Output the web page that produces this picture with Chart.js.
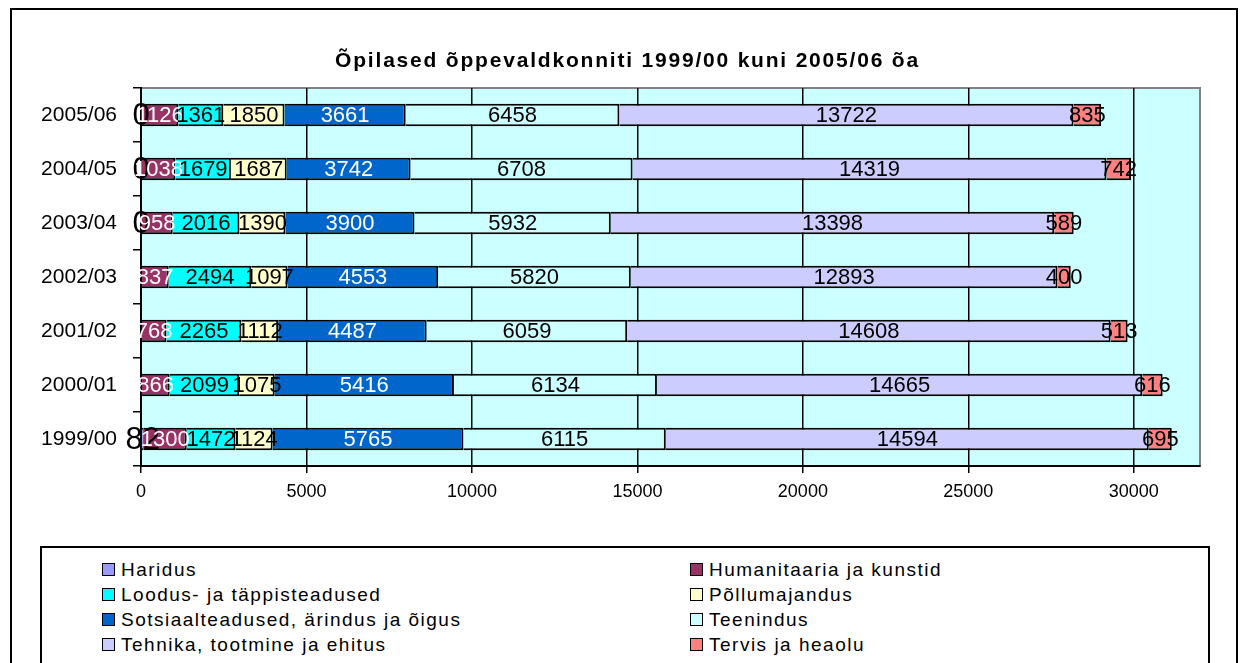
<!DOCTYPE html>
<html><head><meta charset="utf-8">
<script src="https://cdn.jsdelivr.net/npm/chart.js@4.4.1/dist/chart.umd.min.js"></script>
<style>
html,body{margin:0;padding:0;background:#fff;}
#wrap{position:relative;width:1247px;height:663px;overflow:hidden;font-family:"Liberation Sans",Arial,sans-serif;}
#frame{position:absolute;left:10px;top:8px;width:1228px;height:700px;border:2px solid #000;box-sizing:border-box;}
#c{position:absolute;left:0;top:0;}
#title{position:absolute;left:4px;top:48px;width:1247px;text-align:center;font-weight:bold;font-size:21px;letter-spacing:1.8px;line-height:24px;color:#000;}
#legend{position:absolute;left:40px;top:546px;width:1170px;height:200px;border:2px solid #000;box-sizing:border-box;background:#fff;}
.item{position:absolute;display:flex;align-items:center;font-size:19px;color:#000;white-space:nowrap;line-height:1;letter-spacing:1.5px;}
.sw{width:11px;height:11px;border:1.5px solid #000;margin-right:6px;flex:none;}
</style></head>
<body>
<div id="wrap">
  <div id="frame"></div>
  <canvas id="c" width="1247" height="663"></canvas>
  <div id="title">Õpilased õppevaldkonniti 1999/00 kuni 2005/06 õa</div>
  <div id="legend"></div>
</div>
<script>
// ---- data ----
const categories = ['2005/06','2004/05','2003/04','2002/03','2001/02','2000/01','1999/00'];
const seriesNames = ['Haridus','Humanitaaria ja kunstid','Loodus- ja täppisteadused','Põllumajandus',
  'Sotsiaalteadused, ärindus ja õigus','Teenindus','Tehnika, tootmine ja ehitus','Tervis ja heaolu'];
const haridus      = [0, 0, 0, null, null, null, 82];
const humanitaaria = [1126, 1038, 958, 837, 768, 866, 1300];
const loodus       = [1361, 1679, 2016, 2494, 2265, 2099, 1472];
const pollumajandus= [1850, 1687, 1390, 1097, 1112, 1075, 1124];
const sotsiaal     = [3661, 3742, 3900, 4553, 4487, 5416, 5765];
const teenindus    = [6458, 6708, 5932, 5820, 6059, 6134, 6115];
const tehnika      = [13722, 14319, 13398, 12893, 14608, 14665, 14594];
const tervis       = [835, 742, 589, 400, 513, 616, 695];
const xTicks = [0, 5000, 10000, 15000, 20000, 25000, 30000];

const values = [haridus, humanitaaria, loodus, pollumajandus, sotsiaal, teenindus, tehnika, tervis];
const colors = ['#9999FF','#993366','#00FFFF','#FFFFCC','#0066CC','#CCFFFF','#CCCCFF','#FF8080'];
const labelColors = ['#000','#fff','#000','#000','#fff','#000','#000','#000'];
const FONT = '"Liberation Sans", Arial, sans-serif';

const datasets = values.map((v, i) => ({
  label: seriesNames[i], data: v, backgroundColor: colors[i],
  borderColor: '#000', borderWidth: 2,
  categoryPercentage: 1, barPercentage: 0.42
}));

const areaPlugin = {
  id: 'area',
  beforeDraw(chart) {
    const {ctx, chartArea: a} = chart;
    ctx.save();
    ctx.fillStyle = '#CCFFFF';
    ctx.fillRect(a.left, a.top, a.right - a.left, a.bottom - a.top);
    ctx.strokeStyle = '#808080'; ctx.lineWidth = 2;
    ctx.strokeRect(a.left, a.top, a.right - a.left, a.bottom - a.top);
    ctx.restore();
  }
};

const labelPlugin = {
  id: 'vals',
  afterDatasetsDraw(chart) {
    const ctx = chart.ctx;
    ctx.save();
    ctx.textAlign = 'center'; ctx.textBaseline = 'middle';
    chart.data.datasets.forEach((ds, di) => {
      const meta = chart.getDatasetMeta(di);
      meta.data.forEach((el, i) => {
        const v = ds.data[i];
        if (v === null || v === undefined) return;
        ctx.font = (di === 0 ? '31px ' : '22px ') + FONT;
        ctx.fillStyle = labelColors[di];
        ctx.fillText(String(v), (el.x + el.base) / 2, el.y + 1);
      });
    });
    ctx.restore();
  }
};

new Chart(document.getElementById('c'), {
  type: 'bar',
  data: { labels: categories, datasets },
  options: {
    indexAxis: 'y', responsive: false, animation: false,
    layout: { padding: { left: 41, right: 47, top: 88, bottom: 157 } },
    plugins: { legend: { display: false }, tooltip: { enabled: false }, title: { display: false } },
    scales: {
      x: {
        stacked: true, min: 0, max: 32000,
        afterBuildTicks(s) { s.ticks = xTicks.map(v => ({ value: v })); },
        afterFit(s) { s.height = 40; },
        grid: { color: '#000', lineWidth: 1.5, tickLength: 7, drawOnChartArea: true },
        border: { color: '#000', width: 2 },
        ticks: { color: '#000', font: { family: FONT, size: 18 }, padding: 8,
                 callback: v => String(v) }
      },
      y: {
        stacked: true,
        afterFit(s) { s.width = 100; },
        grid: { drawOnChartArea: false, color: '#000', lineWidth: 1.5, tickLength: 8, offset: true },
        border: { color: '#000', width: 2 },
        ticks: { color: '#000', font: { family: FONT, size: 21 }, padding: 16 }
      }
    }
  },
  plugins: [areaPlugin, labelPlugin]
});

// legend (two columns, row-major like the original)
const leg = document.getElementById('legend');
const colX = [60, 648], rowY = [12, 37, 62, 87];
seriesNames.forEach((n, i) => {
  const d = document.createElement('div');
  d.className = 'item';
  d.style.left = colX[i % 2] + 'px';
  d.style.top = rowY[Math.floor(i / 2)] + 'px';
  const sw = document.createElement('span'); sw.className = 'sw'; sw.style.background = colors[i];
  const t = document.createElement('span'); t.textContent = n;
  d.appendChild(sw); d.appendChild(t); leg.appendChild(d);
});
</script>
</body></html>
